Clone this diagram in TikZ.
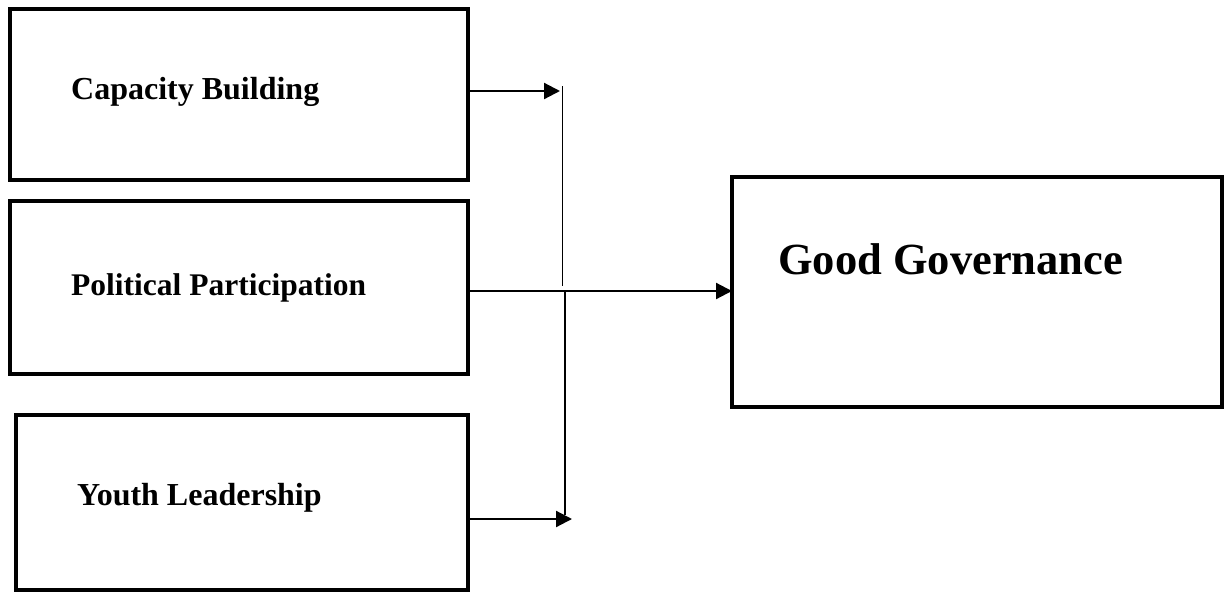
\documentclass[tikz,border=0pt]{standalone}
\usepackage{fontspec}
\setmainfont{Liberation Serif}
\usetikzlibrary{arrows.meta}
\begin{document}
\begin{tikzpicture}[x=1pt,y=-1pt,
  box/.style={draw=black,line width=3.8pt,minimum width=#1,inner sep=0pt,outer sep=0pt},
  lbl/.style={anchor=base west,inner sep=0pt,font=\bfseries\fontsize{32}{36}\selectfont},
  arr/.style={line width=2.2pt,-{Triangle[length=16pt,width=16pt]}},
  vline/.style={line width=1.4pt}]
\useasboundingbox (0,0) rectangle (1224,592);
% boxes
\node[box=458pt,minimum height=171pt] (cb) at (239,94.5) {};
\node[box=458pt,minimum height=173pt] (pp) at (239,287.5) {};
\node[box=452pt,minimum height=175pt] (yl) at (242,502.5) {};
\node[box=490pt,minimum height=230pt] (gg) at (977,292) {};
% labels
\node[lbl] (tcb) at (71,99) {Capacity Building};
\node[lbl,font=\bfseries\fontsize{31.5}{36}\selectfont] (tpp) at (71,295) {Political Participation};
\node[lbl] (tyl) at (77,505) {Youth Leadership};
\node[anchor=base west,inner sep=0pt,font=\bfseries\fontsize{44.5}{50}\selectfont] (tgg) at (778,274) {Good Governance};
% junction coordinates
\coordinate (j1) at (560,91);
\coordinate (v1t) at (562.7,86);
\coordinate (v1b) at (562.7,286);
\coordinate (j2) at (565,291);
\coordinate (v2b) at (565,515);
\coordinate (j3) at (572,519);
% connectors
\draw[arr] (cb.east |- j1) -- (j1);
\draw[vline] (v1t) -- (v1b);
\draw[arr] (pp.east |- j2) -- (gg.west |- j2);
\draw[line width=2pt] (j2) -- (v2b);
\draw[arr] (yl.east |- j3) -- (j3);
\end{tikzpicture}
\end{document}
